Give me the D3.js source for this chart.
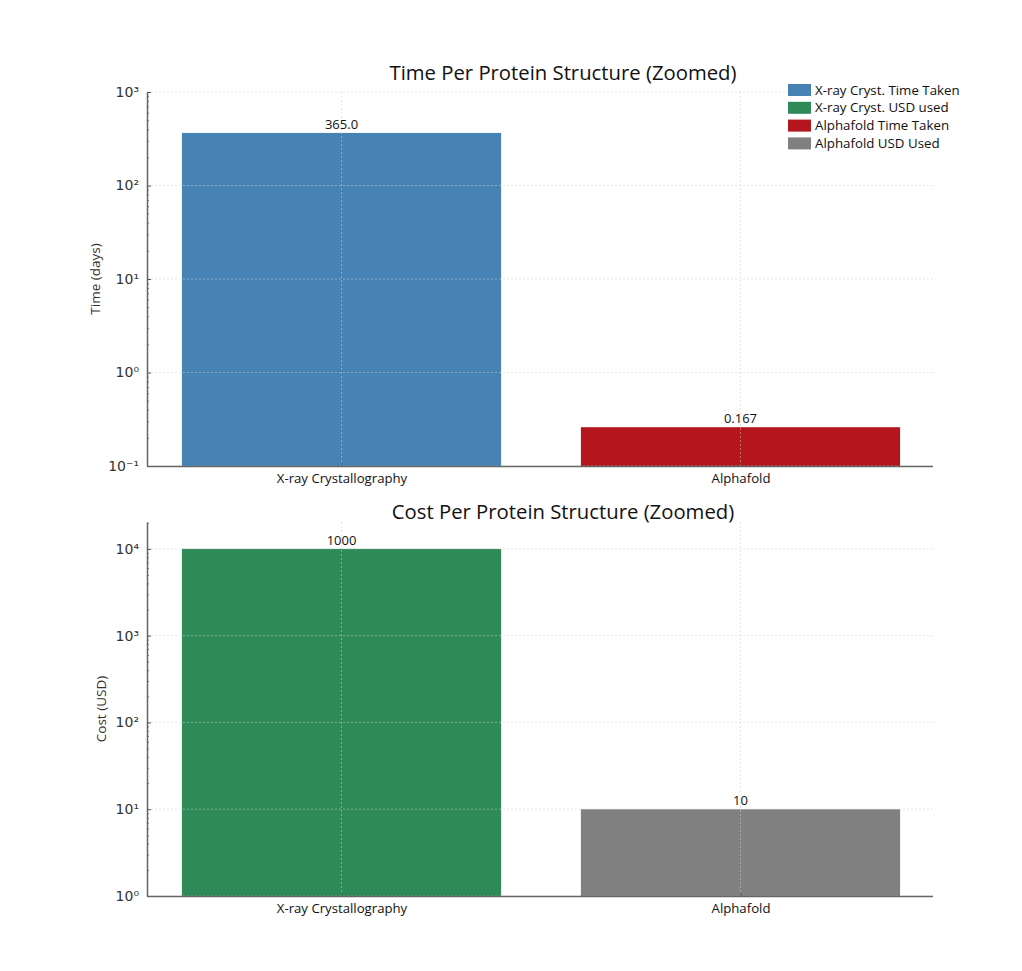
<!DOCTYPE html>
<html>
<head>
<meta charset="utf-8">
<script src="https://cdn.jsdelivr.net/npm/d3@7"></script>
<style>
  body { margin: 0; background: #fff; }
  text { font-family: "Open Sans", "Noto Sans", sans-serif; }
</style>
</head>
<body>
<div id="chart"></div>
<script>
// Categories and values
const categories = ["X-ray Crystallography", "Alphafold"];

const timeValues = [365, 0.26];          // bar heights as drawn
const timeLabels = ["365.0", "0.167"];   // printed annotations
const timeColors = ["#4682B4", "#B5151D"];
const timeTicks = [0.1, 1, 10, 100, 1000];

const costValues = [10000, 10];
const costLabels = ["1000", "10"];
const costColors = ["#2E8B57", "#808080"];
const costTicks = [1, 10, 100, 1000, 10000];

const legendLabels = ["X-ray Cryst. Time Taken", "X-ray Cryst. USD used", "Alphafold Time Taken", "Alphafold USD Used"];
const legendColors = ["#4682B4", "#2E8B57", "#B5151D", "#808080"];

const width = 1022;
const height = 971;

const svg = d3.select("#chart")
  .append("svg")
  .attr("width", width)
  .attr("height", height);

// shared x scale: bar centres at 0 and 1, width 0.8
const x = d3.scaleLinear()
  .domain([-0.49, 1.49])
  .range([146, 936]);
const barWidth = 0.8;

const supers = { "-": "\u207B", "0": "\u2070", "1": "\u00B9", "2": "\u00B2", "3": "\u00B3", "4": "\u2074" };
const expLabel = d => "10" + String(Math.round(Math.log10(d))).split("").map(c => supers[c]).join("");

function drawPanel(opt) {
  const y = d3.scaleLog().domain(opt.domain).range(opt.range);
  const g = svg.append("g");
  const left = x.range()[0] + 1;
  const right = x.range()[1] - 3;

  // bars
  g.selectAll("rect.bar")
    .data(opt.values)
    .join("rect")
    .attr("class", "bar")
    .attr("x", (d, i) => x(i - barWidth / 2))
    .attr("width", x(barWidth) - x(0))
    .attr("y", d => y(d))
    .attr("height", d => y(opt.domain[0]) - y(d))
    .attr("fill", (d, i) => opt.colors[i]);

  // grid (drawn over the bars, faint)
  g.selectAll("line.hgrid")
    .data(opt.ticks)
    .join("line")
    .attr("x1", left).attr("x2", right)
    .attr("y1", d => y(d)).attr("y2", d => y(d))
    .attr("stroke", "#cfcfcf")
    .attr("stroke-opacity", 0.5)
    .attr("stroke-dasharray", "2,2");

  g.selectAll("line.vgrid")
    .data(categories)
    .join("line")
    .attr("x1", (d, i) => x(i)).attr("x2", (d, i) => x(i))
    .attr("y1", opt.range[1]).attr("y2", opt.range[0])
    .attr("stroke", "#cfcfcf")
    .attr("stroke-opacity", 0.5)
    .attr("stroke-dasharray", "2,2");

  // value labels
  g.selectAll("text.val")
    .data(opt.labels)
    .join("text")
    .attr("x", (d, i) => x(i))
    .attr("y", (d, i) => y(opt.values[i]) - 4)
    .attr("text-anchor", "middle")
    .attr("font-size", 13)
    .attr("fill", "#111")
    .text(d => d);

  // minor ticks
  const minor = y.ticks().filter(d => !opt.ticks.some(t => Math.abs(t - d) / t < 1e-6));
  g.append("g")
    .attr("transform", `translate(${left},0)`)
    .call(d3.axisLeft(y).tickValues(minor).tickSize(-2).tickFormat(""))
    .call(a => a.select(".domain").remove())
    .call(a => a.selectAll("line").attr("stroke", "#777"));

  // y axis
  g.append("g")
    .attr("transform", `translate(${left},0)`)
    .call(d3.axisLeft(y).tickValues(opt.ticks).tickSizeInner(-4).tickSizeOuter(0).tickPadding(8).tickFormat(expLabel))
    .call(a => a.select(".domain").attr("stroke", "#666").attr("stroke-width", 1.5))
    .call(a => a.selectAll("line").attr("stroke", "#555"))
    .call(a => a.selectAll("text")
      .attr("font-size", 14)
      .attr("fill", "#333")
      .style("font-family", "'DejaVu Sans', sans-serif"));

  // x axis
  g.append("g")
    .attr("transform", `translate(0,${opt.range[0]})`)
    .call(d3.axisBottom(x).tickValues([0, 1]).tickSizeInner(-3).tickSizeOuter(0).tickPadding(8)
      .tickFormat(i => categories[i]))
    .call(a => a.select(".domain").attr("d", `M${left},0.5H${right}`).attr("stroke", "#666").attr("stroke-width", 1.5))
    .call(a => a.selectAll("line").attr("stroke", "#555"))
    .call(a => a.selectAll("text").attr("font-size", 13.2).attr("fill", "#111"));

  // title
  g.append("text")
    .attr("x", 563)
    .attr("y", opt.titleY)
    .attr("text-anchor", "middle")
    .attr("font-size", 20.3)
    .attr("fill", "#111")
    .text(opt.title);

  // y label
  g.append("text")
    .attr("transform", `translate(${opt.ylabelX},${(opt.range[0] + opt.range[1]) / 2}) rotate(-90)`)
    .attr("text-anchor", "middle")
    .attr("font-size", 13.5)
    .attr("fill", "#333")
    .text(opt.ylabel);
}

drawPanel({
  values: timeValues,
  labels: timeLabels,
  colors: timeColors,
  ticks: timeTicks,
  domain: [0.1, 1000],
  range: [466, 92],
  title: "Time Per Protein Structure (Zoomed)",
  titleY: 80,
  ylabel: "Time (days)",
  ylabelX: 100
});

drawPanel({
  values: costValues,
  labels: costLabels,
  colors: costColors,
  ticks: costTicks,
  domain: [1, 20400],
  range: [896, 522],
  title: "Cost Per Protein Structure (Zoomed)",
  titleY: 519,
  ylabel: "Cost (USD)",
  ylabelX: 106
});

// legend
const legend = svg.append("g")
  .attr("transform", "translate(788,84)");

legend.selectAll("rect")
  .data(legendLabels)
  .join("rect")
  .attr("x", 0)
  .attr("y", (d, i) => i * 17.8)
  .attr("width", 23)
  .attr("height", 12)
  .attr("fill", (d, i) => legendColors[i]);

legend.selectAll("text")
  .data(legendLabels)
  .join("text")
  .attr("x", 27)
  .attr("y", (d, i) => i * 17.8 + 10.5)
  .attr("font-size", 13.3)
  .attr("fill", "#111")
  .text(d => d);
</script>
</body>
</html>
